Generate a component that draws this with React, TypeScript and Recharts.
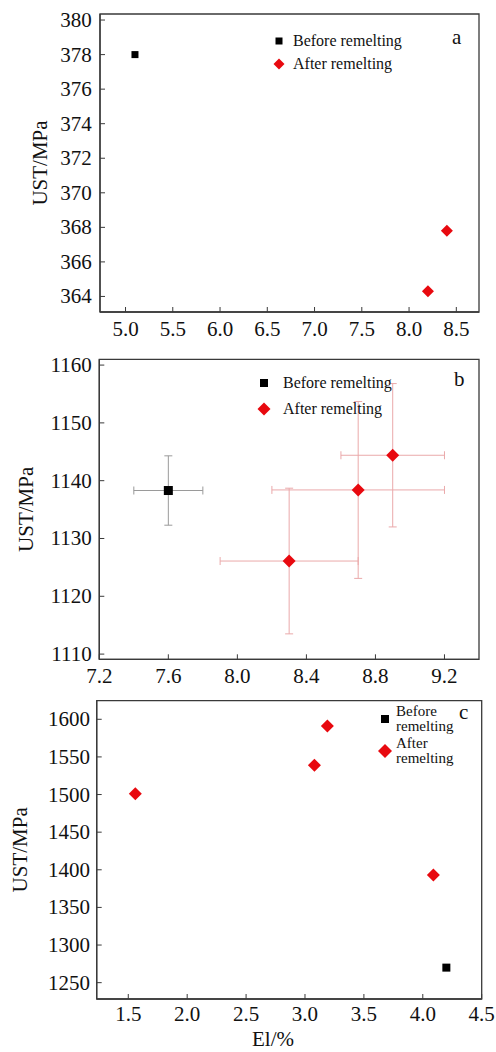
import React from 'react';
import { ScatterChart, Scatter, XAxis, YAxis, ErrorBar, ReferenceArea } from 'recharts';

// Panel a
const aBeforeX = [5.1];
const aBeforeY = [378.0];
const aAfterX = [8.4, 8.2];
const aAfterY = [367.8, 364.3];
const aXTicks = [5.0, 5.5, 6.0, 6.5, 7.0, 7.5, 8.0, 8.5];
const aYTicks = [364, 366, 368, 370, 372, 374, 376, 378, 380];

// Panel b
const bBeforeX = [7.6];
const bBeforeY = [1138.3];
const bBeforeXErr = [0.2];
const bBeforeYErr = [6.0];
const bAfterX = [8.3, 8.7, 8.9];
const bAfterY = [1126.1, 1138.4, 1144.4];
const bAfterXErr = [0.4, 0.5, 0.3];
const bAfterYErr = [12.6, 15.3, 12.4];
const bXTicks = [7.2, 7.6, 8.0, 8.4, 8.8, 9.2];
const bYTicks = [1110, 1120, 1130, 1140, 1150, 1160];

// Panel c
const cBeforeX = [4.2];
const cBeforeY = [1270];
const cAfterX = [1.56, 3.08, 3.19, 4.09];
const cAfterY = [1501, 1539, 1591, 1393];
const cXTicks = [1.5, 2.0, 2.5, 3.0, 3.5, 4.0, 4.5];
const cYTicks = [1250, 1300, 1350, 1400, 1450, 1500, 1550, 1600];

const seriesNames = ['Before remelting', 'After remelting'];
const yLabel = 'UST/MPa';
const xLabel = 'El/%';

const FONT = 'Liberation Serif';
const FRAME = '#3a3a3a';
const TXT = '#111';
const txtStyle: React.CSSProperties = { fontFamily: FONT, fontSize: 21, fill: TXT };

type Pt = { x: number; y: number; ex?: number; ey?: number };
const zip = (xs: number[], ys: number[], exs?: number[], eys?: number[]): Pt[] =>
  xs.map((x, i) => ({ x, y: ys[i], ex: exs ? exs[i] : undefined, ey: eys ? eys[i] : undefined }));

const makeSquare = (s: number) => (props: any) => {
  const { cx, cy } = props;
  return <rect x={cx - s / 2} y={cy - s / 2} width={s} height={s} fill="#000" />;
};
const makeDiamond = (r: number) => (props: any) => {
  const { cx, cy } = props;
  return <polygon points={`${cx},${cy - r} ${cx + r},${cy} ${cx},${cy + r} ${cx - r},${cy}`} fill="#e8090f" />;
};

const bottomTick = (base: number) => (p: any) => {
  const x = p.x;
  const axisY = p.y;
  const v = p.payload && p.payload.value;
  return (
    <g>
      <line x1={x} x2={x} y1={axisY} y2={axisY - 5} stroke={FRAME} strokeWidth={1} />
      <text x={x} y={axisY + base} textAnchor="middle" style={txtStyle}>
        {Number(v).toFixed(1)}
      </text>
    </g>
  );
};

const leftTick = (gap: number) => (p: any) => {
  const axisX = p.x;
  const y = p.y;
  const v = p.payload && p.payload.value;
  return (
    <g>
      <line x1={axisX} x2={axisX + 5} y1={y} y2={y} stroke={FRAME} strokeWidth={1} />
      <text x={axisX - gap} y={y + 7} textAnchor="end" style={txtStyle}>
        {String(v)}
      </text>
    </g>
  );
};

const YLab = (dx: number) => (props: any) => {
  const vb = props.viewBox || {};
  const x = vb.x + dx;
  const y = vb.y + vb.height / 2;
  return (
    <text x={x} y={y} transform={`rotate(-90 ${x} ${y})`} textAnchor="middle" dominantBaseline="central"
      style={txtStyle}>{yLabel}</text>
  );
};

const LegendBox = ({ left, top, gap, sq, dr, twoLine, textGap, fontSize, lh }: any) => (
  <div style={{ position: 'absolute', left, top, fontFamily: FONT, fontSize, color: TXT, lineHeight: lh }}>
    {seriesNames.map((n, i) => (
      <div key={n} style={{ display: 'flex', alignItems: 'center', marginBottom: i === 0 ? gap : 0 }}>
        <svg width={18} height={18} style={{ flex: '0 0 18px' }}>
          {i === 0 ? <rect x={9 - sq / 2} y={9 - sq / 2} width={sq} height={sq} fill="#000" />
            : <polygon points={`9,${9 - dr} ${9 + dr},9 9,${9 + dr} ${9 - dr},9`} fill="#e8090f" />}
        </svg>
        <span style={{ marginLeft: textGap }}>
          {twoLine ? n.split(' ').map((w) => <div key={w}>{w}</div>) : n}
        </span>
      </div>
    ))}
  </div>
);

const Letter = ({ left, top, ch }: any) => (
  <div style={{ position: 'absolute', left, top, fontFamily: FONT, fontSize: 21, color: TXT, lineHeight: '21px' }}>{ch}</div>
);

const axisLineStyle = { stroke: FRAME, strokeWidth: 1.3 };

export default function App() {
  const aBefore = zip(aBeforeX, aBeforeY);
  const aAfter = zip(aAfterX, aAfterY);
  const bBefore = zip(bBeforeX, bBeforeY, bBeforeXErr, bBeforeYErr);
  const bAfter = zip(bAfterX, bAfterY, bAfterXErr, bAfterYErr);
  const cBefore = zip(cBeforeX, cBeforeY);
  const cAfter = zip(cAfterX, cAfterY);

  const aDomX: [number, number] = [4.73, 8.74];
  const aDomY: [number, number] = [363.1, 380.35];
  const bDomX: [number, number] = [7.2, 9.4];
  const bDomY: [number, number] = [1109.1, 1161.0];
  const cDomX: [number, number] = [1.232, 4.5];
  const cDomY: [number, number] = [1228.3, 1624.7];

  return (
    <div style={{ position: 'absolute', left: 0, top: 0, width: 496, height: 1052, background: '#fff', fontFamily: FONT }}>
      {/* Panel a */}
      <div style={{ position: 'absolute', left: 0, top: 0 }}>
        <ScatterChart width={496} height={345} margin={{ top: 14, right: 17, left: 40, bottom: 0 }}
          style={{ fontFamily: FONT }}>
          <XAxis type="number" dataKey="x" domain={aDomX} ticks={aXTicks} allowDataOverflow height={33}
            tickSize={0} tickMargin={0} tickLine={false} axisLine={axisLineStyle} tick={bottomTick(24)} interval={0} />
          <YAxis type="number" dataKey="y" domain={aDomY} ticks={aYTicks} allowDataOverflow width={60}
            tickSize={0} tickMargin={0} tickLine={false} axisLine={axisLineStyle} tick={leftTick(8.3)} interval={0}
            label={{ content: YLab(-0.5) } as any} />
          <ReferenceArea x1={aDomX[0]} x2={aDomX[1]} y1={aDomY[0]} y2={aDomY[1]} fill="none" stroke={FRAME} strokeWidth={1.3} />
          <Scatter data={aBefore} shape={makeSquare(7)} isAnimationActive={false} />
          <Scatter data={aAfter} shape={makeDiamond(6)} isAnimationActive={false} />
        </ScatterChart>
      </div>
      <LegendBox left={270} top={31} gap={3} sq={7} dr={5.5} textGap={5} fontSize={16} lh="20px" />
      <Letter left={452} top={27} ch="a" />

      {/* Panel b */}
      <div style={{ position: 'absolute', left: 0, top: 340 }}>
        <ScatterChart width={496} height={350} margin={{ top: 19.3, right: 17, left: 39.3, bottom: 0 }}
          style={{ fontFamily: FONT }}>
          <XAxis type="number" dataKey="x" domain={bDomX} ticks={bXTicks} allowDataOverflow height={30.7}
            tickSize={0} tickMargin={0} tickLine={false} axisLine={axisLineStyle} tick={bottomTick(23.7)} interval={0} />
          <YAxis type="number" dataKey="y" domain={bDomY} ticks={bYTicks} allowDataOverflow width={60}
            tickSize={0} tickMargin={0} tickLine={false} axisLine={axisLineStyle} tick={leftTick(7.6)} interval={0}
            label={{ content: YLab(-12.8) } as any} />
          <ReferenceArea x1={bDomX[0]} x2={bDomX[1]} y1={bDomY[0]} y2={bDomY[1]} fill="none" stroke={FRAME} strokeWidth={1.3} />
          <Scatter data={bBefore} shape={makeSquare(9)} isAnimationActive={false}>
            <ErrorBar dataKey="ex" direction="x" width={4} stroke="#9a9a9a" strokeWidth={1} isAnimationActive={false} />
            <ErrorBar dataKey="ey" direction="y" width={4} stroke="#9a9a9a" strokeWidth={1} isAnimationActive={false} />
          </Scatter>
          <Scatter data={bAfter} shape={makeDiamond(6.5)} isAnimationActive={false}>
            <ErrorBar dataKey="ex" direction="x" width={4} stroke="#eaa9aa" strokeWidth={1} isAnimationActive={false} />
            <ErrorBar dataKey="ey" direction="y" width={4} stroke="#eaa9aa" strokeWidth={1} isAnimationActive={false} />
          </Scatter>
        </ScatterChart>
      </div>
      <LegendBox left={255} top={373} gap={6} sq={8} dr={6.5} textGap={10} fontSize={16} lh="20px" />
      <Letter left={454} top={369} ch="b" />

      {/* Panel c */}
      <div style={{ position: 'absolute', left: 0, top: 680 }}>
        <ScatterChart width={496} height={372} margin={{ top: 20.7, right: 14.3, left: 36.7, bottom: 0 }}
          style={{ fontFamily: FONT }}>
          <XAxis type="number" dataKey="x" domain={cDomX} ticks={cXTicks} allowDataOverflow height={53}
            tickSize={0} tickMargin={0} tickLine={false} axisLine={axisLineStyle} tick={bottomTick(22)} interval={0}
            label={{
              content: (p: any) => {
                const vb = p.viewBox || {};
                return (
                  <text x={273} y={vb.y + 40} textAnchor="middle" dominantBaseline="central"
                    style={txtStyle}>{xLabel}</text>
                );
              },
            } as any} />
          <YAxis type="number" dataKey="y" domain={cDomY} ticks={cYTicks} allowDataOverflow width={60}
            tickSize={0} tickMargin={0} tickLine={false} axisLine={axisLineStyle} tick={leftTick(6.7)} interval={0}
            label={{ content: YLab(-16.7) } as any} />
          <ReferenceArea x1={cDomX[0]} x2={cDomX[1]} y1={cDomY[0]} y2={cDomY[1]} fill="none" stroke={FRAME} strokeWidth={1.3} />
          <Scatter data={cBefore} shape={makeSquare(8)} isAnimationActive={false} />
          <Scatter data={cAfter} shape={makeDiamond(6.5)} isAnimationActive={false} />
        </ScatterChart>
      </div>
      <LegendBox left={376} top={704} gap={3} sq={8} dr={7} twoLine textGap={2} fontSize={15} lh="14.5px" />
      <Letter left={459} top={702} ch="c" />
    </div>
  );
}
